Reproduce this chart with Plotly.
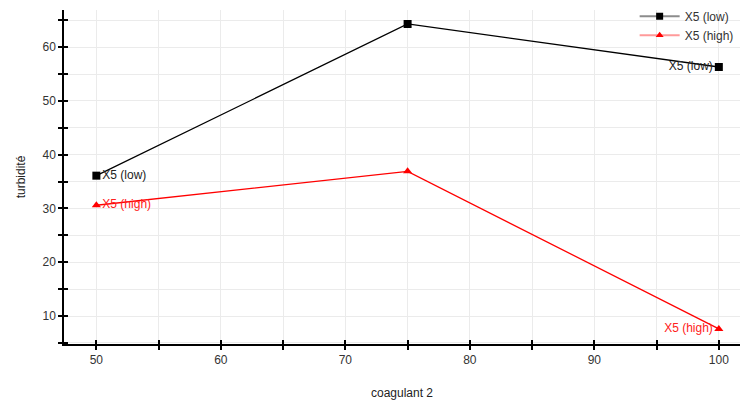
import plotly.graph_objects as go

# Turbidity response for coagulant 2 at two levels of factor X5
coagulant = [50, 75, 100]
turb_low = [36.1, 64.3, 56.3]
turb_high = [30.6, 36.9, 7.6]
series_names = ["X5 (low)", "X5 (high)"]
point_labels_low = ["X5 (low)", "", "X5 (low)"]
point_labels_high = ["X5 (high)", "", "X5 (high)"]
label_positions = ["middle right", "middle center", "middle left"]

FONT = "Liberation Sans, Arial, sans-serif"

fig = go.Figure()

fig.add_trace(go.Scatter(
    x=coagulant, y=turb_low, mode="lines+markers+text",
    text=point_labels_low, textposition=label_positions,
    textfont=dict(color="#222222", size=12, family=FONT),
    line=dict(color="black", width=1.3),
    marker=dict(symbol="square", size=8, color="black"),
    showlegend=False, cliponaxis=False,
))
fig.add_trace(go.Scatter(
    x=coagulant, y=turb_high, mode="lines+markers+text",
    text=point_labels_high, textposition=label_positions,
    textfont=dict(color="#ff2020", size=12, family=FONT),
    line=dict(color="#ff0000", width=1.3),
    marker=dict(symbol="triangle-up", size=8, color="#ff0000"),
    showlegend=False, cliponaxis=False,
))

# Legend entries
fig.add_trace(go.Scatter(
    x=[None], y=[None], mode="lines+markers", name=series_names[0],
    line=dict(color="#8c8c8c", width=2),
    marker=dict(symbol="square", size=7, color="black"),
))
fig.add_trace(go.Scatter(
    x=[None], y=[None], mode="lines+markers", name=series_names[1],
    line=dict(color="#ff9a9a", width=2),
    marker=dict(symbol="triangle-up", size=7, color="#ff0000"),
))

# Mirror axes carrying inward tick marks so ticks cross the axis lines
fig.add_trace(go.Scatter(x=[None], y=[None], xaxis="x2", yaxis="y2", showlegend=False))

xr = [47.4, 101.7]
yr = [4.8, 66.9]
tickfont = dict(family=FONT, size=12, color="#333333")

fig.update_layout(
    width=742, height=403,
    margin=dict(l=64, r=2, t=10, b=59, autoexpand=False),
    paper_bgcolor="white", plot_bgcolor="white",
    font=dict(family=FONT, size=12, color="#222222"),
    xaxis=dict(
        range=xr, tickmode="array", tickvals=[50, 60, 70, 80, 90, 100],
        ticks="outside", ticklen=4, tickwidth=1.5, tickcolor="black",
        showline=True, linecolor="black", linewidth=1.5,
        showgrid=True, gridcolor="#ebebeb", gridwidth=1,
        minor=dict(dtick=5, tick0=0, ticks="outside", ticklen=4, tickwidth=1.5,
                   tickcolor="black", showgrid=True, gridcolor="#ebebeb"),
        zeroline=False, tickfont=tickfont, automargin=False,
        title=dict(text="coagulant 2", font=dict(family=FONT, size=12, color="#222222"), standoff=22),
    ),
    yaxis=dict(
        range=yr, tickmode="array", tickvals=[10, 20, 30, 40, 50, 60],
        ticks="outside", ticklen=4, tickwidth=1.5, tickcolor="black",
        showline=True, linecolor="black", linewidth=1.5,
        showgrid=True, gridcolor="#ebebeb", gridwidth=1,
        minor=dict(dtick=5, tick0=0, ticks="outside", ticklen=4, tickwidth=1.5,
                   tickcolor="black", showgrid=True, gridcolor="#ebebeb"),
        zeroline=False, tickfont=tickfont, automargin=False,
        title=dict(text="turbidité", font=dict(family=FONT, size=12, color="#222222"), standoff=14),
    ),
    xaxis2=dict(
        range=xr, overlaying="x", anchor="y", side="bottom", dtick=5, tick0=0,
        ticks="inside", ticklen=4, tickwidth=1.5, tickcolor="black",
        showticklabels=False, showgrid=False, zeroline=False, showline=False,
    ),
    yaxis2=dict(
        range=yr, overlaying="y", anchor="x", side="left", dtick=5, tick0=0,
        ticks="inside", ticklen=4, tickwidth=1.5, tickcolor="black",
        showticklabels=False, showgrid=False, zeroline=False, showline=False,
    ),
    legend=dict(
        x=0.998, y=1.025, xanchor="right", yanchor="top",
        bgcolor="rgba(255,255,255,0)", borderwidth=0,
        font=dict(family=FONT, size=12, color="#333333"),
        itemwidth=40, tracegroupgap=0,
    ),
)

fig.write_html("out.html")
